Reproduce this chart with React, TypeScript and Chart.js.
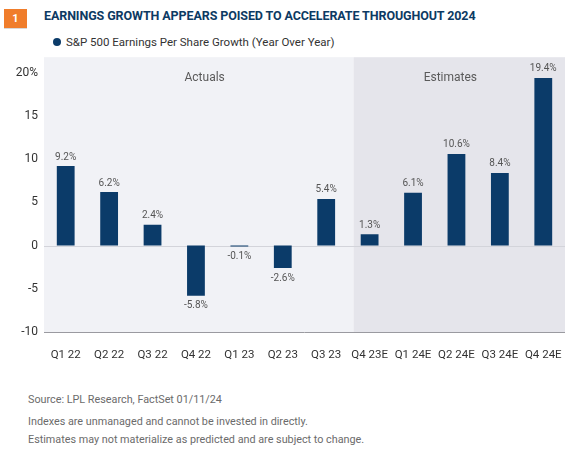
import React, { useEffect, useRef } from "react";
import { Chart, registerables } from "chart.js";

Chart.register(...registerables);

const categories = ["Q1 22", "Q2 22", "Q3 22", "Q4 22", "Q1 23", "Q2 23", "Q3 23", "Q4 23E", "Q1 24E", "Q2 24E", "Q3 24E", "Q4 24E"];
const epsGrowth = [9.2, 6.2, 2.4, -5.8, -0.1, -2.6, 5.4, 1.3, 6.1, 10.6, 8.4, 19.4];
const yTicks = [-10, -5, 0, 5, 10, 15, 20];
const seriesLabel = "S&P 500 Earnings Per Share Growth (Year Over Year)";
const title = "EARNINGS GROWTH APPEARS POISED TO ACCELERATE THROUGHOUT 2024";
const footnotes = [
  "Source: LPL Research, FactSet  01/11/24",
  "Indexes are unmanaged and cannot be invested in directly.",
  "Estimates may not materialize as predicted and are subject to change.",
];

const FONT = "Roboto, 'Open Sans', sans-serif";
const BAR = "#0b3b69";

const regionPlugin = {
  id: "regions",
  beforeDatasetsDraw(chart: any) {
    const { ctx, chartArea, scales } = chart;
    const x = scales.x;
    const y = scales.y;
    const split = x.getPixelForValue(6.63);
    ctx.save();
    ctx.fillStyle = "#f1f2f6";
    ctx.fillRect(chartArea.left, chartArea.top, split - chartArea.left, chartArea.bottom - chartArea.top);
    ctx.fillStyle = "#e5e5eb";
    ctx.fillRect(split, chartArea.top, chartArea.right - split, chartArea.bottom - chartArea.top);
    // zero line
    const y0 = Math.round(y.getPixelForValue(0)) + 0.5;
    ctx.strokeStyle = "#d3d4da";
    ctx.lineWidth = 1.2;
    ctx.beginPath();
    ctx.moveTo(chartArea.left, y0);
    ctx.lineTo(chartArea.right, y0);
    ctx.stroke();
    // bottom axis line
    const yb = Math.round(chartArea.bottom) + 0.5;
    ctx.strokeStyle = "#9a9aa0";
    ctx.lineWidth = 1;
    ctx.beginPath();
    ctx.moveTo(chartArea.left, yb);
    ctx.lineTo(chartArea.right, yb);
    ctx.stroke();
    // region labels
    ctx.fillStyle = "#5a5a5a";
    ctx.font = `12px ${FONT}`;
    ctx.textAlign = "center";
    ctx.textBaseline = "middle";
    ctx.fillText("Actuals", x.getPixelForValue(3.2), chartArea.top + 21);
    ctx.fillText("Estimates", x.getPixelForValue(8.86), chartArea.top + 21);
    ctx.restore();
  },
  afterDatasetsDraw(chart: any) {
    const { ctx } = chart;
    const meta = chart.getDatasetMeta(0);
    ctx.save();
    ctx.fillStyle = "#555555";
    ctx.font = `10px ${FONT}`;
    ctx.textAlign = "center";
    meta.data.forEach((bar: any, i: number) => {
      const v = epsGrowth[i];
      const label = v.toFixed(1) + "%";
      if (v >= 0) {
        ctx.textBaseline = "bottom";
        ctx.fillText(label, bar.x, bar.y - 4);
      } else {
        ctx.textBaseline = "top";
        ctx.fillText(label, bar.x, bar.y + 5);
      }
    });
    ctx.restore();
  },
};

function BarChart() {
  const ref = useRef<HTMLCanvasElement>(null);
  useEffect(() => {
    if (!ref.current) return;
    const chart = new Chart(ref.current, {
      type: "bar",
      data: {
        labels: categories,
        datasets: [
          {
            label: seriesLabel,
            data: epsGrowth,
            backgroundColor: BAR,
            categoryPercentage: 1,
            barPercentage: 0.41,
          },
        ],
      },
      options: {
        animation: false,
        responsive: false,
        maintainAspectRatio: false,
        layout: { padding: { top: 1, right: 9, left: 0, bottom: 0 } },
        plugins: {
          legend: { display: false },
          tooltip: { enabled: false },
        },
        scales: {
          x: {
            grid: { display: false, drawTicks: false },
            border: { display: false },
            ticks: {
              color: "#333333",
              font: { family: FONT, size: 11.5 },
              padding: 16,
              maxRotation: 0,
              autoSkip: false,
            },
            afterFit(scale: any) {
              scale.height = 38;
            },
          },
          y: {
            min: -10,
            max: 21.8,
            grid: { display: false, drawTicks: false },
            border: { display: false },
            afterBuildTicks(scale: any) {
              scale.ticks = yTicks.map((v) => ({ value: v }));
            },
            ticks: {
              color: "#333333",
              font: { family: FONT, size: 12 },
              padding: 6,
              callback: (v: any) => (v === 20 ? "20%" : String(v)),
            },
            afterFit(scale: any) {
              scale.width = 44;
            },
          },
        },
      },
      plugins: [regionPlugin],
    });
    return () => chart.destroy();
  }, []);
  return <canvas ref={ref} width={578} height={326} style={{ position: "absolute", left: 0, top: 44, width: 578, height: 326 }} />;
}

export default function App() {
  useEffect(() => {
    document.body.style.margin = "0";
  }, []);
  return (
    <div style={{ position: "relative", width: 578, height: 449, background: "#ffffff", fontFamily: FONT, overflow: "hidden" }}>
      <div
        style={{
          position: "absolute",
          left: 4,
          top: 9,
          width: 23,
          height: 19,
          background: "#f07d2b",
          color: "#ffffff",
          fontSize: 11,
          fontWeight: 700,
          display: "flex",
          alignItems: "center",
          justifyContent: "center",
          boxShadow: "0 1px 0 #d8d8d8",
        }}
      >
        1
      </div>
      <div
        style={{
          position: "absolute",
          left: 44,
          top: 8,
          fontSize: 12.5,
          fontWeight: 700,
          color: "#0d3a63",
          whiteSpace: "nowrap",
          letterSpacing: -0.1,
        }}
      >
        {title}
      </div>
      <div style={{ position: "absolute", left: 53, top: 35, display: "flex", alignItems: "center", whiteSpace: "nowrap" }}>
        <span style={{ width: 8, height: 8, borderRadius: "50%", background: BAR, display: "inline-block", marginRight: 5 }} />
        <span style={{ fontSize: 11.5, color: "#333333" }}>{seriesLabel}</span>
      </div>
      <BarChart />
      <div style={{ position: "absolute", left: 28, top: 391, fontSize: 10.8, color: "#6b6b6b", lineHeight: "18px", whiteSpace: "nowrap" }}>
        <div style={{ marginBottom: 4 }}>{footnotes[0]}</div>
        <div>{footnotes[1]}</div>
        <div>{footnotes[2]}</div>
      </div>
    </div>
  );
}
